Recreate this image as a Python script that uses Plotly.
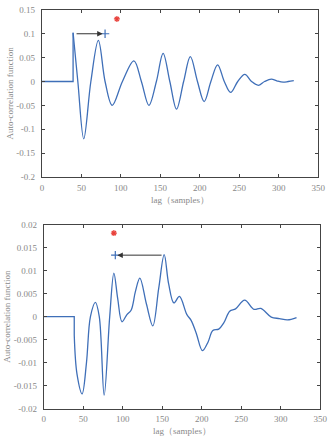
import plotly.graph_objects as go

# ---------------- data ----------------
# top panel
top_flat_lag = [0, 39.5, 39.5]
top_flat_val = [0, 0, 0.102]
top_lag = [39.5, 45.5, 53, 62, 71.5, 80, 89, 102, 116.5, 126, 135.5, 145, 153.5, 162,
           170.5, 179.5, 188, 197, 205.5, 214, 222.5, 231, 239, 248, 257, 265.5, 274,
           282, 290.5, 298, 305.5, 312, 319]
top_val = [0.102, 0, -0.12, 0, 0.086, 0, -0.05, 0, 0.043, 0, -0.05, 0, 0.059, 0,
           -0.058, 0, 0.052, 0, -0.042, 0, 0.035, 0, -0.023, 0, 0.015, 0, -0.008,
           0, 0.005, 0.001, -0.0015, 0, 0.002]
top_cross = (80, 0.1)
top_star = (95, 0.131)
top_arrow_from = (42, 0.1)
top_arrow_to = (77, 0.1)

# bottom panel
bot_flat_lag = [0, 38.5, 38.5]
bot_flat_val = [0, 0, -0.004]
bot_lag = [38.5, 42, 48.5, 54, 59, 65.3, 70.2, 76.4, 83.4, 88.7, 93.5, 99, 105, 110.5,
           116, 121.6, 130, 138, 145.5, 152.4, 158, 164.7, 171.7, 181, 186.5, 193,
           200.9, 208, 214, 221.5, 228, 235.4, 242.8, 254.3, 266.2, 274.8, 288,
           298.3, 308.5, 320]
bot_val = [-0.004, -0.0125, -0.0168, -0.01, 0, 0.0031, 0, -0.0171, 0, 0.0095, 0.004,
           -0.0011, 0.0004, 0.0014, 0.0055, 0.0084, 0.0027, -0.002, 0.0062, 0.0135,
           0.0072, 0.003, 0.0044, 0.0005, -0.0008, -0.0036, -0.0074, -0.0055, -0.003,
           -0.0027, -0.0013, 0.0012, 0.0017, 0.0036, 0.0016, 0.0018, -0.0001,
           -0.0004, -0.0007, -0.0002]
bot_cross = (90.5, 0.0134)
bot_star = (88.7, 0.0182)
bot_arrow_from = (151, 0.0134)
bot_arrow_to = (93, 0.0134)

x_ticks = [0, 50, 100, 150, 200, 250, 300, 350]
top_yticks = [0.15, 0.1, 0.05, 0, -0.05, -0.1, -0.15, -0.2]
top_ytext = ["0.15", "0.1", "0.05", "0", "-0.05", "-0.1", "-0.15", "-0.2"]
bot_yticks = [0.02, 0.015, 0.01, 0.005, 0, -0.005, -0.01, -0.015, -0.02]
bot_ytext = ["0.02", "0.015", "0.01", "0.005", "0", "-0.005", "-0.01", "-0.015", "-0.02"]

x_title = "lag（samples）"
y_title = "Auto-correlation function"

# ---------------- styles ----------------
W, H = 335, 436
LINE = "#3f6fb8"
RED = "#e8403a"
FONT = "Liberation Serif, Times New Roman, serif"
TXT = "#888888"
AX = "#444444"

fig = go.Figure()

def add_panel(xa, ya, flat_l, flat_v, lag, val, cross, star):
    fig.add_trace(go.Scatter(x=flat_l, y=flat_v, mode="lines", xaxis=xa, yaxis=ya,
                             line=dict(color=LINE, width=1.3), showlegend=False))
    fig.add_trace(go.Scatter(x=lag, y=val, mode="lines", xaxis=xa, yaxis=ya,
                             line=dict(color=LINE, width=1.3, shape="spline", smoothing=1.0),
                             showlegend=False))
    fig.add_trace(go.Scatter(x=[cross[0]], y=[cross[1]], mode="markers", xaxis=xa, yaxis=ya,
                             marker=dict(symbol="cross-thin-open", size=6, color=LINE,
                                         line=dict(color=LINE, width=1.2)),
                             showlegend=False))
    fig.add_trace(go.Scatter(x=[star[0]], y=[star[1]], mode="markers", xaxis=xa, yaxis=ya,
                             marker=dict(symbol="asterisk-open", size=5, color=RED,
                                         line=dict(color=RED, width=1.2)),
                             showlegend=False))

add_panel("x", "y", top_flat_lag, top_flat_val, top_lag, top_val, top_cross, top_star)
add_panel("x2", "y2", bot_flat_lag, bot_flat_val, bot_lag, bot_val, bot_cross, bot_star)

def arrow(xr, yr, frm, to):
    return dict(x=to[0], y=to[1], ax=frm[0], ay=frm[1], xref=xr, yref=yr,
                axref=xr, ayref=yr, showarrow=True, arrowhead=2, arrowsize=1.1,
                arrowwidth=1, arrowcolor="#333333", text="")

axis_common = dict(showgrid=False, zeroline=False, showline=True, linecolor=AX,
                   linewidth=1, mirror="ticks", ticks="inside", ticklen=3,
                   tickcolor=AX, tickfont=dict(family=FONT, size=9, color=TXT))

fig.update_layout(
    width=W, height=H,
    margin=dict(l=0, r=0, t=0, b=0),
    paper_bgcolor="white", plot_bgcolor="white",
    xaxis=dict(domain=[41 / W, 325 / W], anchor="y", range=[0, 350],
               tickvals=x_ticks, ticktext=[str(v) for v in x_ticks], ticklabelstandoff=2,
               title=dict(text=x_title, font=dict(family=FONT, size=9, color=TXT), standoff=4),
               **axis_common),
    yaxis=dict(domain=[1 - 176 / H, 1 - 5 / H], anchor="x", range=[-0.2, 0.15],
               tickvals=top_yticks, ticktext=top_ytext, ticklabelstandoff=4,
               title=dict(text=y_title, font=dict(family=FONT, size=9, color=TXT), standoff=1),
               **axis_common),
    xaxis2=dict(domain=[43 / W, 327 / W], anchor="y2", range=[0, 350],
                tickvals=x_ticks, ticktext=[str(v) for v in x_ticks], ticklabelstandoff=2,
                title=dict(text=x_title, font=dict(family=FONT, size=9, color=TXT), standoff=4),
                **axis_common),
    yaxis2=dict(domain=[1 - 413 / H, 1 - 225 / H], anchor="x2", range=[-0.02, 0.02],
                tickvals=bot_yticks, ticktext=bot_ytext, ticklabelstandoff=4,
                title=dict(text=y_title, font=dict(family=FONT, size=9, color=TXT), standoff=1),
                **axis_common),
    annotations=[arrow("x", "y", top_arrow_from, top_arrow_to),
                 arrow("x2", "y2", bot_arrow_from, bot_arrow_to)],
)

fig.write_html("out.html")
